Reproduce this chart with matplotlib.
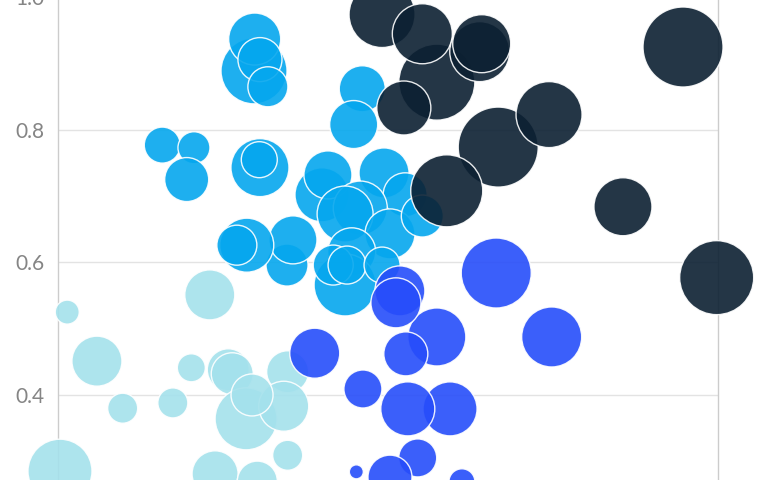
import matplotlib
matplotlib.use("Agg")
from matplotlib import pyplot as plt
from matplotlib.ticker import FormatStrFormatter
import numpy as np

# light cyan group
light_x = [0.014, 0.059, 0.098, 0.174, 0.202, 0.230, 0.003, 0.258, 0.264, 0.285,
           0.348, 0.342, 0.294, 0.348, 0.238, 0.302]
light_y = [0.525, 0.451, 0.380, 0.388, 0.441, 0.551, 0.285, 0.438, 0.432, 0.364,
           0.435, 0.383, 0.400, 0.309, 0.281, 0.270]
light_z = [12, 25, 15, 15, 14, 25, 32, 21, 21, 31, 21, 25, 21, 15, 23, 20]

# sky blue group
sky_x = [0.297, 0.298, 0.306, 0.318, 0.158, 0.206, 0.195, 0.306, 0.305,
         0.461, 0.448, 0.400, 0.409, 0.494, 0.526, 0.458, 0.435, 0.503, 0.552,
         0.445, 0.435, 0.347, 0.356, 0.286, 0.271, 0.417, 0.438, 0.491]
sky_y = [0.889, 0.937, 0.906, 0.865, 0.777, 0.773, 0.725, 0.743, 0.755,
         0.862, 0.808, 0.702, 0.732, 0.735, 0.702, 0.682, 0.673, 0.643, 0.670,
         0.616, 0.566, 0.596, 0.634, 0.626, 0.626, 0.596, 0.596, 0.596]
sky_z = [33, 26, 22, 20, 18, 16, 22, 29, 18,
         23, 24, 27, 24, 25, 22, 27, 28, 25, 21,
         24, 31, 21, 24, 27, 20, 20, 19, 18]

# blue group
blue_x = [0.389, 0.462, 0.574, 0.527, 0.594, 0.530, 0.545, 0.452, 0.503, 0.612,
          0.518, 0.512, 0.664, 0.748]
blue_y = [0.463, 0.409, 0.4875, 0.462, 0.379, 0.379, 0.305, 0.284, 0.276, 0.269,
          0.557, 0.539, 0.584, 0.4875]
blue_z = [25, 19, 29, 22, 27, 27, 19, 7, 22, 13, 25, 25, 35, 30]

# navy group
navy_x = [0.491, 0.574, 0.552, 0.639, 0.642, 0.524, 0.667, 0.744, 0.589,
          0.947, 0.856, 0.998]
navy_y = [0.974, 0.872, 0.945, 0.918, 0.930, 0.833, 0.774, 0.823, 0.708,
          0.925, 0.684, 0.577]
navy_z = [33, 38, 30, 30, 29, 27, 40, 33, 36, 40, 29, 37]

y_ticks = [0.4, 0.6, 0.8, 1.0]

DPI = 100
W, H = 767, 480


def bubble_size(z):
    # z is bubble radius in pixels -> marker area in points^2
    d = 2 * np.asarray(z, dtype=float) * 72.0 / DPI
    return d ** 2


fig = plt.figure(figsize=(W / DPI, H / DPI), dpi=DPI)
ax = fig.add_axes([58 / W, 0, 660 / W, (H + 2.7) / H])

groups = [
    (light_x, light_y, light_z, "#a4e1ec"),
    (sky_x, sky_y, sky_z, "#05a7ee"),
    (blue_x, blue_y, blue_z, "#264dfa"),
    (navy_x, navy_y, navy_z, "#0c2032"),
]
for gx, gy, gz, col in groups:
    ax.scatter(gx, gy, s=bubble_size(gz), c=col, alpha=0.9,
               edgecolors="white", linewidths=1.0, clip_on=False, zorder=3)

ax.set_xlim(0, 1)
ax.set_ylim(0.2717, 1.0)
ax.set_xticks([])
ax.set_yticks(y_ticks)
ax.yaxis.set_major_formatter(FormatStrFormatter("%.1f"))
ax.tick_params(axis="y", length=0, pad=9.5, labelsize=15, labelcolor="#858585")
for lab in ax.get_yticklabels():
    lab.set_family(["Lato", "DejaVu Sans"])

ax.grid(axis="y", color="#e3e3e3", linewidth=1.0, zorder=0)
ax.set_axisbelow(True)
for side in ["top", "bottom"]:
    ax.spines[side].set_visible(False)
for side in ["left", "right"]:
    ax.spines[side].set_color("#cccccc")
    ax.spines[side].set_linewidth(1.0)

fig.savefig("out.png", dpi=DPI)
